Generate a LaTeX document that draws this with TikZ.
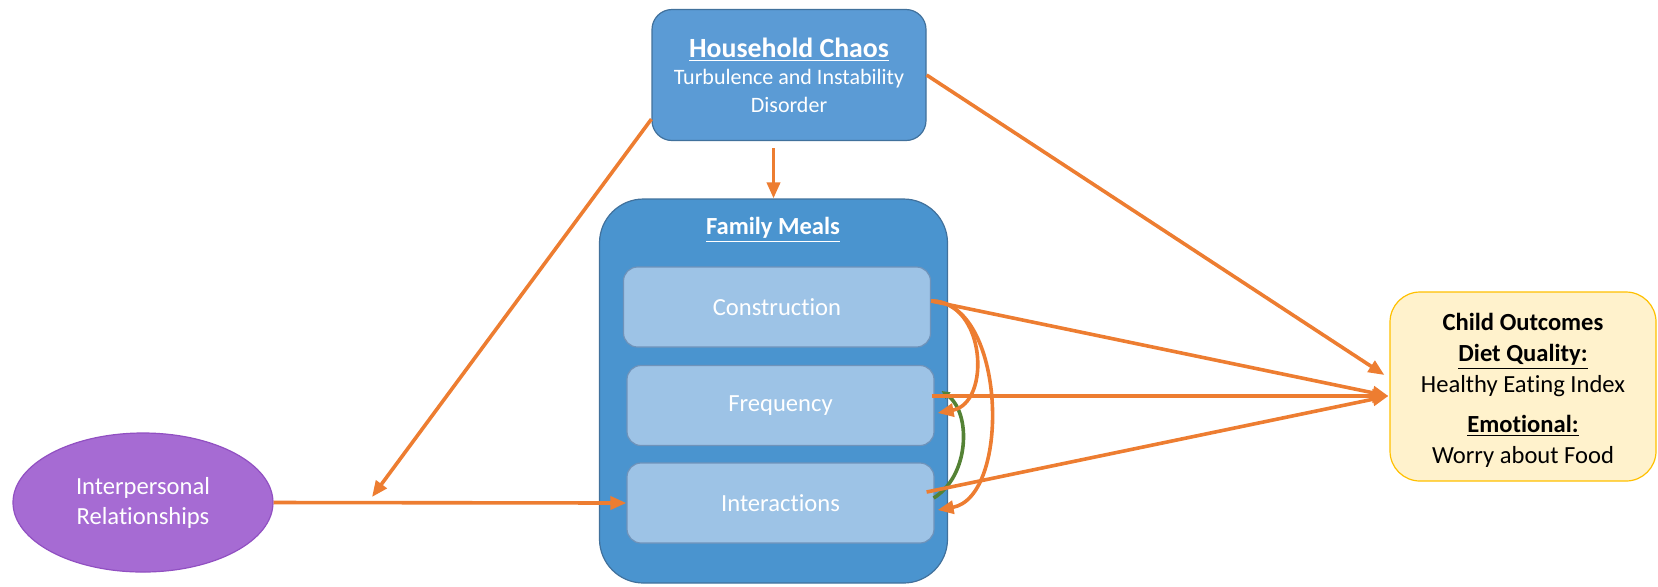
\documentclass[tikz,border=0pt]{standalone}
\usepackage{fontspec}
\setmainfont{Carlito}[Ligatures=NoCommon]
\usetikzlibrary{arrows.meta,shapes.geometric}
\definecolor{chaosblue}{HTML}{5B9BD5}
\definecolor{mealblue}{HTML}{4A94CF}
\definecolor{edgeblue}{HTML}{41719C}
\definecolor{paleblue}{HTML}{9DC3E6}
\definecolor{paleedge}{HTML}{6F93BA}
\definecolor{relpurple}{HTML}{A66BD3}
\definecolor{reledge}{HTML}{9150C2}
\definecolor{outcomefill}{HTML}{FFF2CC}
\definecolor{outcomeedge}{HTML}{FFC000}
\definecolor{linkorange}{HTML}{ED7D31}
\definecolor{linkgreen}{HTML}{548235}
\begin{document}
\begin{tikzpicture}[x=0.5pt,y=-0.5pt,
  box/.style={draw=edgeblue,line width=0.6pt,inner sep=0pt,text=white},
  subbox/.style={box,fill=paleblue,draw=paleedge,rounded corners=7pt,minimum width=153.5pt,minimum height=40pt,font=\fontsize{12.3}{15}\selectfont},
  link/.style={draw=linkorange,line width=1.8pt,-{Triangle[length=8pt,width=6.5pt]}},
  greenlink/.style={draw=linkgreen,line width=1.8pt,-{Triangle[length=4pt,width=4pt]}}]
  \useasboundingbox (0,0) rectangle (1658,586);

  \node[box,fill=chaosblue,minimum width=137pt,minimum height=65.5pt,rounded corners=10pt,align=center,font=\fontsize{11}{13.8}\selectfont] (chaos) at (789,75)
    {{\fontsize{13.9}{14}\selectfont\bfseries\underline{Household Chaos}}\\Turbulence and Instability\\Disorder};
  \node[box,fill=mealblue,minimum width=174pt,minimum height=192pt,rounded corners=22pt] (meals) at (773.5,391) {};
  \node[text=white,font=\fontsize{12.3}{15}\selectfont\bfseries] (mealstitle) at (773,230) {\underline{Family Meals}};
  \node[subbox] (constr) at (777,307) {Construction};
  \node[subbox] (freq) at (780.5,405.5) {Frequency};
  \node[subbox] (inter) at (780.5,503) {Interactions};
  \node[ellipse,draw=reledge,fill=relpurple,line width=0.6pt,minimum width=130pt,minimum height=69.5pt,inner sep=0pt,text=white,align=center,font=\fontsize{12.3}{15}\selectfont] (rel) at (143,502.5) {Interpersonal\\Relationships};
  \node[box,fill=outcomefill,draw=outcomeedge,minimum width=133pt,minimum height=94.5pt,rounded corners=15pt,text=black,align=center,font=\fontsize{12.3}{15.3}\selectfont] (child) at (1523,386.5)
    {\rule{0pt}{12.6pt}\textbf{Child Outcomes}\\\textbf{\underline{Diet Quality:}}\\Healthy Eating Index\\[5pt]\textbf{\underline{Emotional:}}\\Worry about Food};

  \coordinate (split) at (372,497);
  \coordinate (outcomein) at ([shift={(-0.5pt,-4.75pt)}]child.west);

  \draw[greenlink] ([shift={(-0.5pt,2.5pt)}]inter.east) .. controls +(36,-22) and +(30,22) .. ([shift={(3.5pt,7.25pt)}]freq.east);

  \draw[link] (rel.east) -- (inter.west);
  \draw[link] ([yshift=11pt]chaos.south west) -- (split);
  \draw[link] ([xshift=-7.75pt,yshift=-3.5pt]chaos.south) -- (meals.north);
  \draw[link] (chaos.east) -- ([shift={(-2.5pt,5.75pt)}]child.west);
  \draw[link] ([yshift=3pt]constr.east) -- (outcomein);
  \draw[link] ([shift={(-1.5pt,4.75pt)}]freq.east) -- (outcomein);
  \draw[link] ([shift={(-4pt,5.5pt)}]inter.east) -- (outcomein);
  \draw[link] ([yshift=3pt]constr.east) .. controls +(55,0) and +(54,-10) .. ([shift={(1.5pt,-3.75pt)}]freq.east);
  \draw[link] ([yshift=3pt]constr.east) .. controls +(75,0) and +(74,-13) .. ([shift={(1.5pt,-3.5pt)}]inter.east);
\end{tikzpicture}
\end{document}
